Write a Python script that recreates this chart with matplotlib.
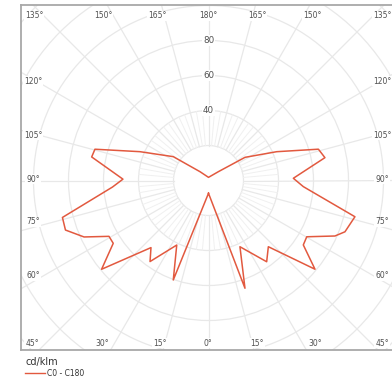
import numpy as np
import matplotlib.pyplot as plt
from matplotlib.patches import Circle

# Luminous intensity distribution, cd/klm
# right half (C0), gamma measured from nadir
gamma_c0 = [0, 18.7, 25.4, 35.6, 42.1, 50.2, 55.8, 60.2, 66.3, 69.4, 76.1,
            86.3, 91.5, 101.1, 105.9, 112.9, 122.4, 131.9, 180]
cd_c0 = [7.3, 65.0, 41.9, 57.1, 51.0, 79.2, 65.5, 64.7, 78.9, 83.3, 86.2,
         54.3, 48.5, 67.8, 65.3, 42.3, 24.7, 7.5, 1.8]
# left half (C180)
gamma_c180 = [0, 19.5, 26.2, 35.8, 40.6, 50.3, 56.6, 60.7, 65.6, 70.9, 75.8,
              86.1, 90.9, 101.4, 105.4, 112.8, 124.1, 136.0, 180]
cd_c180 = [7.3, 60.3, 41.1, 57.1, 50.5, 79.4, 65.2, 65.2, 78.1, 86.5, 86.1,
           55.0, 48.9, 68.1, 67.3, 42.5, 24.3, 7.0, 1.8]

ring_values = [20, 40, 60, 80, 100, 120, 140]
ring_labels = [40, 60, 80]
top_labels = ["135°", "150°", "165°", "180°", "165°", "150°", "135°"]
bottom_labels = ["45°", "30°", "15°", "0°", "15°", "30°", "45°"]
side_labels = ["120°", "105°", "90°", "75°", "60°"]

grid_col = "#e8e8e8"
fine_col = "#f0f0f0"
curve_col = "#e2593f"
text_col = "#505050"

W, H = 392, 382
fig = plt.figure(figsize=(W / 100, H / 100), dpi=100)
# frame in pixels: left 21, top 5, bottom 350, right runs off the picture
ax = fig.add_axes([21 / W, (H - 350) / H, 371 / W, 345 / H])

# centre of the diagram at pixel (208.5, 180.5), 1.75 px per cd/klm
s = 1.75
ax.set_xlim((21 - 208.5) / s, (392 - 208.5) / s)
ax.set_ylim(-(350 - 180.5) / s, (180.5 - 5) / s)

# grid
for r in ring_values:
    ax.add_patch(Circle((0, 0), r, fill=False, ec=grid_col, lw=0.9, zorder=1))
for a in range(0, 360, 5):
    t = np.radians(a)
    major = a % 15 == 0
    r1 = 160 if major else 40
    ax.plot([20 * np.sin(t), r1 * np.sin(t)], [20 * np.cos(t), r1 * np.cos(t)],
            color=grid_col if major else fine_col, lw=0.9 if major else 0.7,
            zorder=1)

# curve
g0 = np.radians(gamma_c0)
g1 = np.radians(gamma_c180)[::-1]
x = np.concatenate([np.array(cd_c0) * np.sin(g0), -np.array(cd_c180)[::-1] * np.sin(g1)])
y = np.concatenate([-np.array(cd_c0) * np.cos(g0), -np.array(cd_c180)[::-1] * np.cos(g1)])
ax.plot(x, y, color=curve_col, lw=1.1, zorder=3, label="C0 - C180")

# ring values along the vertical
box = dict(facecolor="white", edgecolor="none", pad=0.6)
for r in ring_labels:
    ax.text(0, r, str(r), ha="center", va="center", fontsize=6.3,
            color=text_col, bbox=box, zorder=2)


def px(xp, yp):
    return (xp - 21) / 371, (350 - yp) / 345


top_x = [34, 103, 157, 208, 257, 312, 382]
bot_x = [32, 102, 160, 208, 257, 315, 382]
side_y = [81, 135, 179, 222, 276]
kw = dict(transform=ax.transAxes, ha="center", va="center", fontsize=5.5,
          color=text_col, bbox=box, zorder=2)
for lab, xp in zip(top_labels, top_x):
    ax.text(*px(xp, 16), lab, **kw)
for lab, xp in zip(bottom_labels, bot_x):
    ax.text(*px(xp, 343), lab, **kw)
for lab, yp in zip(side_labels, side_y):
    ax.text(*px(33, yp), lab, **kw)
    ax.text(*px(382, yp), lab, **kw)

ax.set_xticks([])
ax.set_yticks([])
for side in ["left", "top", "bottom"]:
    ax.spines[side].set_color("#a8a8a8")
    ax.spines[side].set_linewidth(1.3)
ax.spines["right"].set_visible(False)

# unit and legend under the frame
fig.text(25 / W, 1 - 362 / H, "cd/klm", fontsize=7, color="#333333",
         ha="left", va="center")
fig.add_artist(plt.Line2D([25 / W, 45 / W], [1 - 373 / H, 1 - 373 / H],
                          color=curve_col, lw=1.0))
fig.text(47 / W, 1 - 373 / H, "C0 - C180", fontsize=5.5, color="#333333",
         ha="left", va="center")

fig.savefig("out.png", dpi=100)
